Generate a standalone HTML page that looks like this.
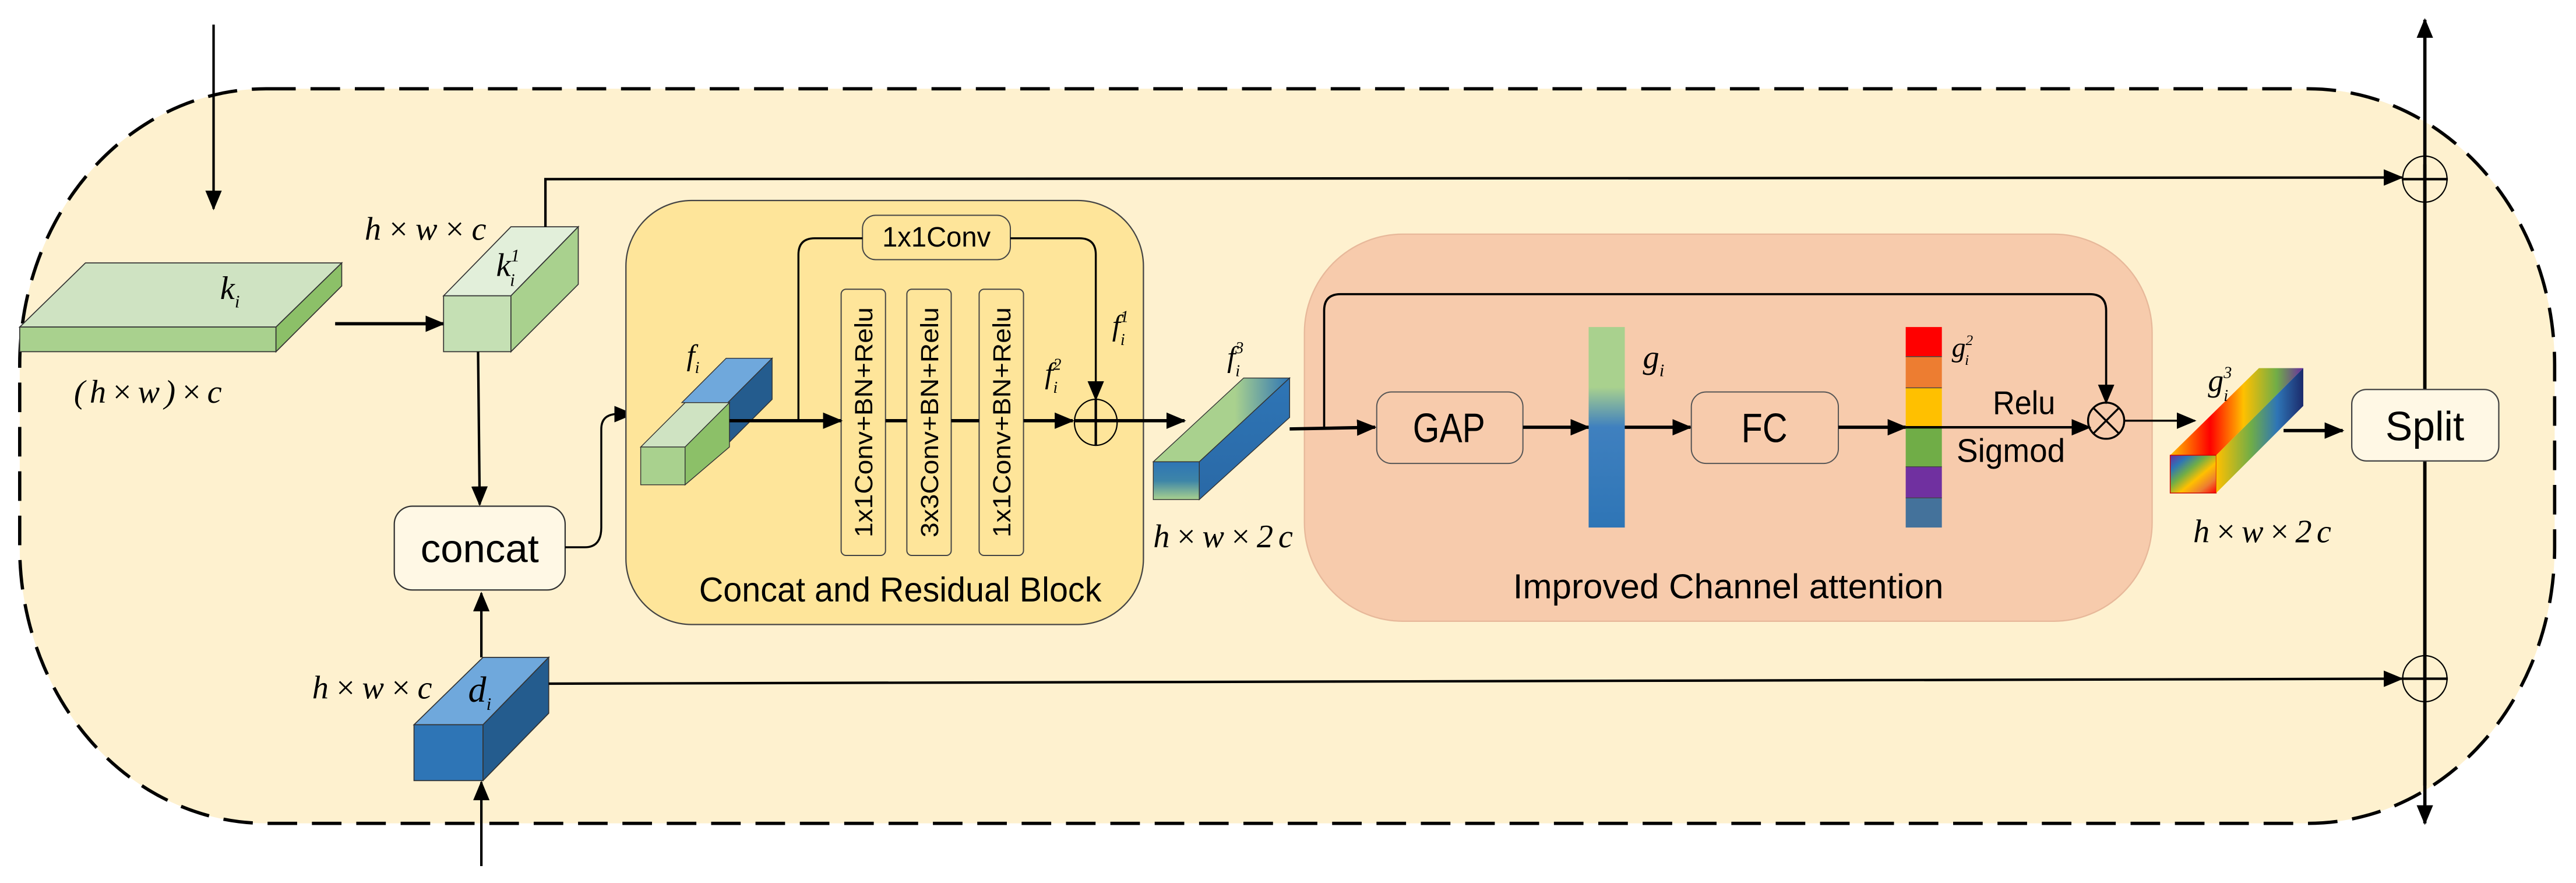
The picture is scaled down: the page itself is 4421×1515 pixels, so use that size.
<!DOCTYPE html>
<html><head><meta charset="utf-8"><style>
html,body{margin:0;padding:0;background:#fff;}
svg{display:block;}
.sans{font-family:"Liberation Sans Narrow","Liberation Sans",sans-serif;}
.it{font-family:"Liberation Serif",serif;font-style:italic;}
</style></head><body>
<svg width="4421" height="1515" viewBox="0 0 1568 537.3" preserveAspectRatio="none" xmlns="http://www.w3.org/2000/svg">
<defs>
<marker id="a" markerUnits="userSpaceOnUse" markerWidth="12" markerHeight="10" refX="11" refY="5" orient="auto"><path d="M0,0 L12,5 L0,10 Z" fill="#000"/></marker>
<linearGradient id="gi" x1="0" y1="0" x2="0" y2="1"><stop offset="0" stop-color="#A9D18E"/><stop offset="0.3" stop-color="#A9D18E"/><stop offset="0.5" stop-color="#3F80BF"/><stop offset="1" stop-color="#2E75B6"/></linearGradient>
<linearGradient id="f3t" x1="0" y1="0" x2="1" y2="0"><stop offset="0" stop-color="#A9D18E"/><stop offset="0.6" stop-color="#A9D18E"/><stop offset="1" stop-color="#2E75B6"/></linearGradient>
<linearGradient id="f3f" x1="0" y1="0" x2="0" y2="1"><stop offset="0" stop-color="#2E75B6"/><stop offset="0.5" stop-color="#3D85A8"/><stop offset="1" stop-color="#A9D18E"/></linearGradient>
<linearGradient id="f3s" x1="0" y1="0" x2="0" y2="1"><stop offset="0" stop-color="#2E75B6"/><stop offset="1" stop-color="#2A69A6"/></linearGradient>
<linearGradient id="rb" x1="0" y1="0" x2="1" y2="1"><stop offset="0" stop-color="#6A2CA0"/><stop offset="0.2" stop-color="#2E75B6"/><stop offset="0.4" stop-color="#70AD47"/><stop offset="0.6" stop-color="#FFC000"/><stop offset="0.8" stop-color="#ED7D31"/><stop offset="1" stop-color="#FF0000"/></linearGradient>
<linearGradient id="rb2" x1="0" y1="0" x2="1" y2="0"><stop offset="0" stop-color="#FFC000"/><stop offset="0.3" stop-color="#FF0000"/><stop offset="0.55" stop-color="#FFC000"/><stop offset="0.8" stop-color="#70AD47"/><stop offset="1" stop-color="#6A2CA0"/></linearGradient>
<linearGradient id="rb3" x1="0" y1="0" x2="1" y2="0"><stop offset="0" stop-color="#FFC000"/><stop offset="0.4" stop-color="#70AD47"/><stop offset="0.7" stop-color="#2E75B6"/><stop offset="1" stop-color="#1B2A6B"/></linearGradient>
</defs>

<path d="M162,54 L1405,54 A150,168 0 0 1 1555,222 L1555,333 A150,168 0 0 1 1405,501 L162,501 A150,168 0 0 1 12,333 L12,222 A150,168 0 0 1 162,54 Z" fill="#FEF1CF" stroke="#000" stroke-width="2" stroke-dasharray="18,9"/>

<line x1="130" y1="15" x2="130" y2="127" stroke="#000" stroke-width="1.5" marker-end="url(#a)"/>

<polygon points="12,199 52,160 208,160 168,199" fill="#CFE3C2" stroke="#333" stroke-width="0.6"/>
<rect x="12" y="199" width="156" height="15" fill="#A9D18E" stroke="#333" stroke-width="0.6"/>
<polygon points="168,199 208,160 208,174 168,214" fill="#8CC068" stroke="#333" stroke-width="0.6"/>
<text x="134" y="182" class="it" font-size="20">k<tspan font-size="11" dy="5">i</tspan></text>
<text x="45" y="245" class="it" font-size="20" textLength="90">(h×w)×c</text>

<line x1="204" y1="197" x2="270" y2="197" stroke="#000" stroke-width="2" marker-end="url(#a)"/>

<polygon points="270,180 311,138 352,138 311,180" fill="#E2EFDA" stroke="#333" stroke-width="0.6"/>
<rect x="270" y="180" width="41" height="34" fill="#C5E0B4" stroke="#333" stroke-width="0.6"/>
<polygon points="311,180 352,138 352,173 311,214" fill="#A9D18E" stroke="#333" stroke-width="0.6"/>
<text x="302" y="168" class="it" font-size="20">k<tspan font-size="11" dy="-9">1</tspan><tspan font-size="11" dx="-6" dy="15">i</tspan></text>
<text x="222" y="146" class="it" font-size="20" textLength="74">h×w×c</text>

<polyline points="332,138 332,109 1462,108" fill="none" stroke="#000" stroke-width="1.5" marker-end="url(#a)"/>
<line x1="291" y1="214" x2="292" y2="307" stroke="#000" stroke-width="1.5" marker-end="url(#a)"/>

<rect x="240" y="308" width="104" height="51" rx="11" fill="#FFF8E5" stroke="#333" stroke-width="0.8"/>
<text x="292" y="342" class="sans" font-size="24" text-anchor="middle" textLength="72" lengthAdjust="spacingAndGlyphs">concat</text>
<path d="M344,333 L356,333 Q366,333 366,321 L366,261 Q366,253 374,252 L385,252" fill="none" stroke="#000" stroke-width="1.2" marker-end="url(#a)"/>

<polygon points="252,441 294,400 334,400 294,441" fill="#6FA8DC" stroke="#333" stroke-width="0.6"/>
<rect x="252" y="441" width="42" height="34" fill="#2E75B6" stroke="#333" stroke-width="0.6"/>
<polygon points="294,441 334,400 334,434 294,475" fill="#245C8E" stroke="#333" stroke-width="0.6"/>
<text x="285" y="427" class="it" font-size="22">d<tspan font-size="11" dy="5">i</tspan></text>
<text x="190" y="425" class="it" font-size="20" textLength="73">h×w×c</text>
<line x1="293" y1="400" x2="293" y2="361" stroke="#000" stroke-width="1.5" marker-end="url(#a)"/>
<line x1="293" y1="527" x2="293" y2="476" stroke="#000" stroke-width="1.5" marker-end="url(#a)"/>
<line x1="334" y1="416" x2="1462" y2="413" stroke="#000" stroke-width="1.5" marker-end="url(#a)"/>

<rect x="381" y="122" width="315" height="258" rx="40" fill="#FEE59A" stroke="#444" stroke-width="0.8"/>
<rect x="525" y="131" width="90" height="27" rx="8" fill="#FEE59A" stroke="#444" stroke-width="0.7"/>
<text x="570" y="150" class="sans" font-size="17" text-anchor="middle" textLength="66" lengthAdjust="spacingAndGlyphs">1x1Conv</text>
<path d="M486,256 L486,155 Q486,145 496,145 L525,145" fill="none" stroke="#000" stroke-width="1.2"/>
<path d="M615,145 L657,145 Q667,145 667,155 L667,243" fill="none" stroke="#000" stroke-width="1.2" marker-end="url(#a)"/>
<g fill="#FEE59A" stroke="#444" stroke-width="0.7">
<rect x="512" y="176" width="27" height="162" rx="3"/>
<rect x="552" y="176" width="27" height="162" rx="3"/>
<rect x="596" y="176" width="27" height="162" rx="3"/>
</g>
<g class="sans" font-size="15" text-anchor="middle">
<text transform="translate(531,257) rotate(-90)" textLength="140" lengthAdjust="spacingAndGlyphs">1x1Conv+BN+Relu</text>
<text transform="translate(571,257) rotate(-90)" textLength="140" lengthAdjust="spacingAndGlyphs">3x3Conv+BN+Relu</text>
<text transform="translate(615,257) rotate(-90)" textLength="140" lengthAdjust="spacingAndGlyphs">1x1Conv+BN+Relu</text>
</g>
<polygon points="415,245 442,218 470,218 443,245" fill="#6FA8DC" stroke="#333" stroke-width="0.5"/>
<polygon points="443,245 470,218 470,243 443,270" fill="#245C8E" stroke="#333" stroke-width="0.5"/>
<polygon points="390,272 417,245 444,245 417,272" fill="#CFE3C2" stroke="#333" stroke-width="0.5"/>
<rect x="390" y="272" width="27" height="23" fill="#A9D18E" stroke="#333" stroke-width="0.5"/>
<polygon points="417,272 444,245 444,272 417,295" fill="#8CC068" stroke="#333" stroke-width="0.5"/>
<text x="418" y="222" class="it" font-size="18">f<tspan font-size="10" dy="5">i</tspan></text>

<line x1="444" y1="256" x2="512" y2="256" stroke="#000" stroke-width="2" marker-end="url(#a)"/>
<line x1="539" y1="256" x2="552" y2="256" stroke="#000" stroke-width="2"/>
<line x1="579" y1="256" x2="596" y2="256" stroke="#000" stroke-width="2"/>
<line x1="623" y1="256" x2="653" y2="256" stroke="#000" stroke-width="2" marker-end="url(#a)"/>
<ellipse cx="667" cy="257" rx="13" ry="14" fill="none" stroke="#000" stroke-width="0.8"/>
<line x1="667" y1="243" x2="667" y2="271" stroke="#000" stroke-width="1.5"/>
<line x1="654" y1="256" x2="721" y2="256" stroke="#000" stroke-width="2" marker-end="url(#a)"/>
<text x="636" y="233" class="it" font-size="18">f<tspan font-size="10" dy="-8">2</tspan><tspan font-size="10" dx="-5" dy="14">i</tspan></text>
<text x="677" y="204" class="it" font-size="18">f<tspan font-size="10" dy="-8">1</tspan><tspan font-size="10" dx="-5" dy="14">i</tspan></text>
<text x="548" y="366" class="sans" font-size="21" text-anchor="middle" textLength="245" lengthAdjust="spacingAndGlyphs">Concat and Residual Block</text>

<polygon points="702,281 757,230 785,230 730,281" fill="url(#f3t)" stroke="#333" stroke-width="0.5"/>
<rect x="702" y="281" width="28" height="23" fill="url(#f3f)" stroke="#333" stroke-width="0.5"/>
<polygon points="730,281 785,230 785,254 730,304" fill="url(#f3s)" stroke="#333" stroke-width="0.5"/>
<text x="747" y="223" class="it" font-size="18">f<tspan font-size="10" dy="-8">3</tspan><tspan font-size="10" dx="-5" dy="14">i</tspan></text>
<text x="702" y="333" class="it" font-size="20" textLength="85">h×w×2c</text>

<rect x="794" y="142.5" width="516" height="235.5" rx="60" fill="#F7CBAC" stroke="#E7B89A" stroke-width="0.8"/>
<line x1="785" y1="261" x2="837" y2="260" stroke="#000" stroke-width="2" marker-end="url(#a)"/>
<path d="M806,261 L806,189 Q806,179 816,179 L1272,179 Q1282,179 1282,189 L1282,245" fill="none" stroke="#000" stroke-width="1.3" marker-end="url(#a)"/>
<rect x="838" y="238.5" width="89" height="43.5" rx="9" fill="#F7CBAC" stroke="#555" stroke-width="0.7"/>
<text x="882" y="269" class="sans" font-size="25" text-anchor="middle" textLength="44" lengthAdjust="spacingAndGlyphs">GAP</text>
<line x1="927" y1="260" x2="967" y2="260" stroke="#000" stroke-width="2" marker-end="url(#a)"/>
<rect x="967" y="199" width="22" height="122" fill="url(#gi)"/>
<text x="1000" y="224" class="it" font-size="20">g<tspan font-size="11" dy="5">i</tspan></text>
<line x1="989" y1="260" x2="1029" y2="260" stroke="#000" stroke-width="2" marker-end="url(#a)"/>
<rect x="1029.5" y="238.5" width="89.5" height="43.5" rx="9" fill="#F7CBAC" stroke="#555" stroke-width="0.7"/>
<text x="1074" y="269" class="sans" font-size="25" text-anchor="middle" textLength="28" lengthAdjust="spacingAndGlyphs">FC</text>
<line x1="1119" y1="260" x2="1160" y2="260" stroke="#000" stroke-width="2" marker-end="url(#a)"/>
<rect x="1160" y="199" width="22" height="18" fill="#FF0000"/>
<rect x="1160" y="217" width="22" height="19" fill="#ED7D31"/>
<rect x="1160" y="236" width="22" height="24" fill="#FFC000"/>
<rect x="1160" y="260" width="22" height="24" fill="#70AD47"/>
<rect x="1160" y="284" width="22" height="19" fill="#7030A0"/>
<rect x="1160" y="303" width="22" height="18" fill="#44729B"/>
<g stroke="#444" stroke-width="0.5"><line x1="1160" y1="217" x2="1182" y2="217"/><line x1="1160" y1="236" x2="1182" y2="236"/><line x1="1160" y1="284" x2="1182" y2="284"/><line x1="1160" y1="303" x2="1182" y2="303"/></g>
<text x="1188" y="217" class="it" font-size="17">g<tspan font-size="9" dy="-7">2</tspan><tspan font-size="9" dx="-5" dy="12">i</tspan></text>
<line x1="1160" y1="260" x2="1272" y2="260" stroke="#000" stroke-width="1.5" marker-end="url(#a)"/>
<text x="1232" y="252" class="sans" font-size="20" text-anchor="middle" textLength="38" lengthAdjust="spacingAndGlyphs">Relu</text>
<text x="1224" y="281" class="sans" font-size="20" text-anchor="middle" textLength="66" lengthAdjust="spacingAndGlyphs">Sigmod</text>
<circle cx="1282" cy="256" r="11" fill="none" stroke="#000" stroke-width="1.2"/>
<line x1="1274" y1="248" x2="1290" y2="264" stroke="#000" stroke-width="1.2"/>
<line x1="1290" y1="248" x2="1274" y2="264" stroke="#000" stroke-width="1.2"/>
<line x1="1293" y1="256" x2="1336" y2="256" stroke="#000" stroke-width="1.2" marker-end="url(#a)"/>
<text x="1052" y="364" class="sans" font-size="21" text-anchor="middle" textLength="262" lengthAdjust="spacingAndGlyphs">Improved Channel attention</text>

<polygon points="1321,277 1375,224 1402,224 1349,277" fill="url(#rb2)"/>
<rect x="1321" y="277" width="28" height="23" fill="url(#rb)" stroke="#C00" stroke-width="0.5"/>
<polygon points="1349,277 1402,224 1402,247 1349,300" fill="url(#rb3)"/>
<text x="1344" y="238" class="it" font-size="19">g<tspan font-size="10" dy="-8">3</tspan><tspan font-size="10" dx="-5" dy="14">i</tspan></text>
<text x="1335" y="330" class="it" font-size="20" textLength="84">h×w×2c</text>
<line x1="1390" y1="262" x2="1426" y2="262" stroke="#000" stroke-width="2" marker-end="url(#a)"/>

<line x1="1476" y1="478" x2="1476" y2="12" stroke="#000" stroke-width="2" marker-end="url(#a)"/>
<line x1="1476" y1="100" x2="1476" y2="501" stroke="#000" stroke-width="2" marker-end="url(#a)"/>
<ellipse cx="1476" cy="109" rx="13.5" ry="14" fill="none" stroke="#000" stroke-width="0.8"/>
<line x1="1462" y1="109" x2="1490" y2="109" stroke="#000" stroke-width="1.5"/>
<ellipse cx="1476" cy="413" rx="13.5" ry="14" fill="none" stroke="#000" stroke-width="0.8"/>
<line x1="1462" y1="413" x2="1490" y2="413" stroke="#000" stroke-width="1.5"/>
<rect x="1431.5" y="237" width="89.5" height="43.5" rx="9" fill="#FFF8E5" stroke="#444" stroke-width="0.8"/>
<text x="1476" y="268" class="sans" font-size="25" text-anchor="middle" textLength="48" lengthAdjust="spacingAndGlyphs">Split</text>
</svg>
</body></html>
